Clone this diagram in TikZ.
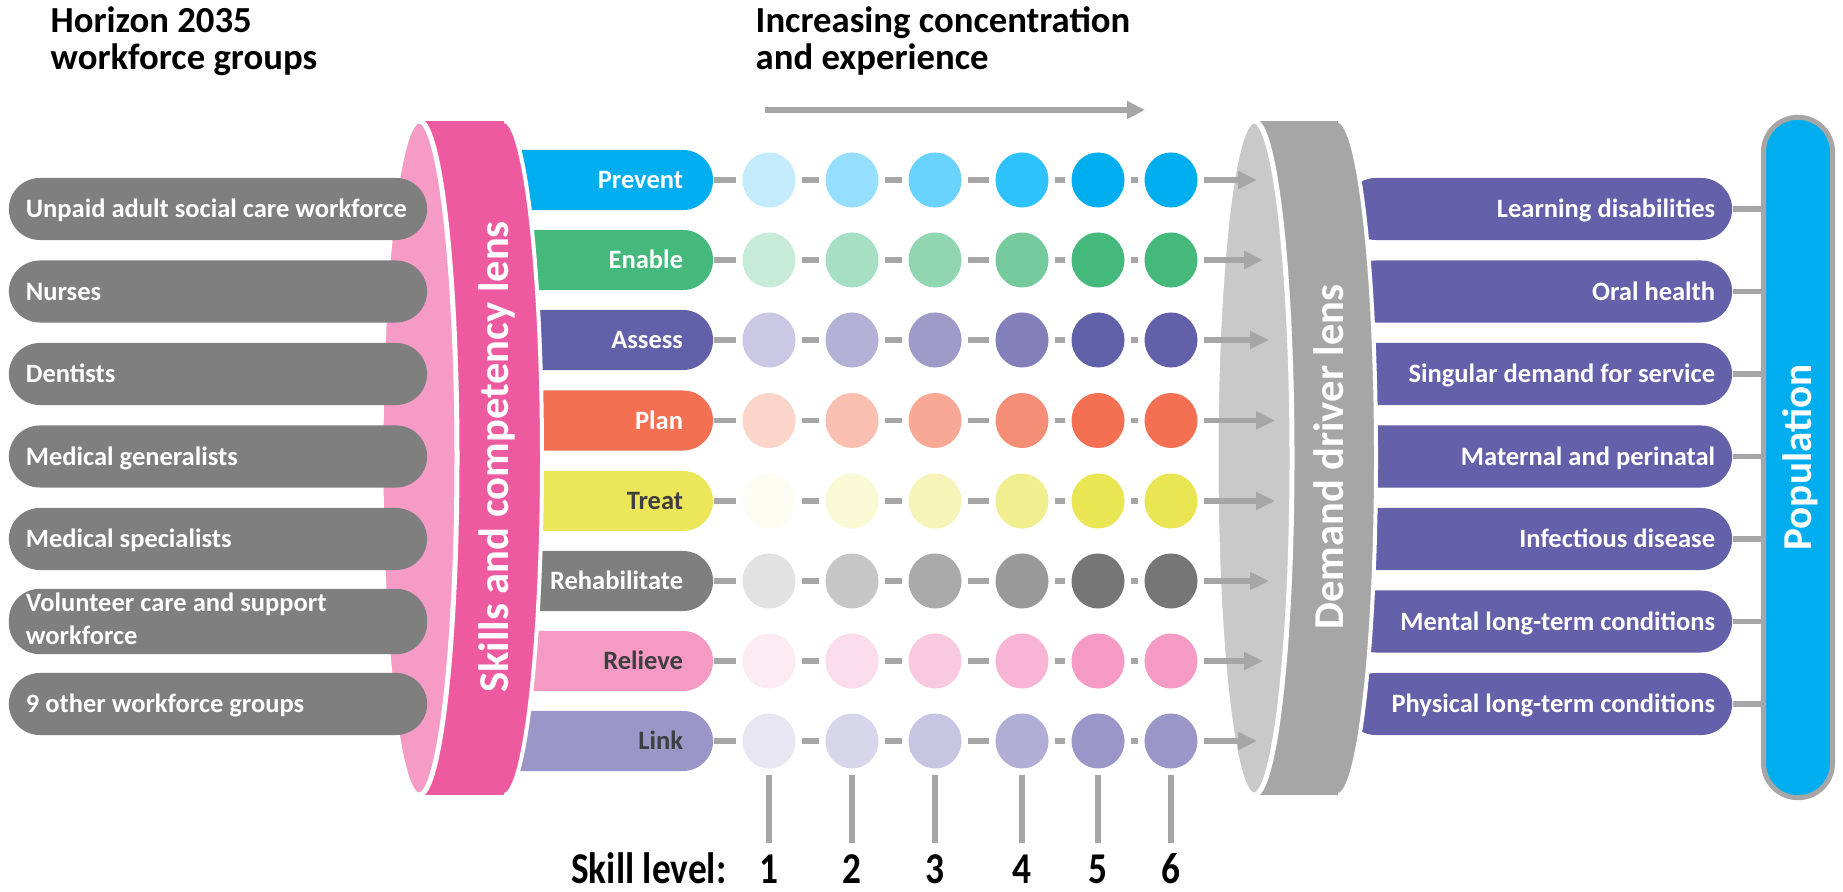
\documentclass[tikz,border=0pt]{standalone}
\usepackage{fontspec}
\usepackage{graphicx}
\setmainfont{Carlito}
\usetikzlibrary{arrows.meta,shapes.geometric}

% palette
\definecolor{connGray}{HTML}{A6A6A6}
\definecolor{pillGray}{HTML}{7F7F7F}
\definecolor{lensPinkLight}{HTML}{F59BC6}
\definecolor{lensPink}{HTML}{EE5A9F}
\definecolor{lensGrayLight}{HTML}{C9C9C9}
\definecolor{lensGray}{HTML}{A6A6A6}
\definecolor{demandPurple}{HTML}{6460AA}
\definecolor{popBlue}{HTML}{00AEEF}
\definecolor{darkText}{HTML}{3F3F3F}

% skill rows
\definecolor{row1}{HTML}{00AEEF}
\definecolor{row2}{HTML}{45B97C}
\definecolor{row3}{HTML}{6360AA}
\definecolor{row4}{HTML}{F37053}
\definecolor{row5}{HTML}{EBE65A}
\definecolor{row6}{HTML}{7F7F7F}
\definecolor{row7}{HTML}{F49AC4}
\definecolor{row8}{HTML}{9A96C7}

% skill level dots, light to dark
\definecolor{r1c1}{HTML}{C4EBFC}\definecolor{r1c2}{HTML}{97DFFE}\definecolor{r1c3}{HTML}{69D3FE}
\definecolor{r1c4}{HTML}{2EC2FD}\definecolor{r1c5}{HTML}{00AEEF}\definecolor{r1c6}{HTML}{00AEEF}
\definecolor{r2c1}{HTML}{C8EAD8}\definecolor{r2c2}{HTML}{A6DFC3}\definecolor{r2c3}{HTML}{91D5B1}
\definecolor{r2c4}{HTML}{74CA9D}\definecolor{r2c5}{HTML}{45B97C}\definecolor{r2c6}{HTML}{45B97C}
\definecolor{r3c1}{HTML}{CAC8E4}\definecolor{r3c2}{HTML}{B4B1D6}\definecolor{r3c3}{HTML}{9F9BC9}
\definecolor{r3c4}{HTML}{837FBA}\definecolor{r3c5}{HTML}{6360AA}\definecolor{r3c6}{HTML}{6360AA}
\definecolor{r4c1}{HTML}{FBD4CA}\definecolor{r4c2}{HTML}{F9C0B2}\definecolor{r4c3}{HTML}{F7A995}
\definecolor{r4c4}{HTML}{F58E77}\definecolor{r4c5}{HTML}{F37053}\definecolor{r4c6}{HTML}{F37053}
\definecolor{r5c1}{HTML}{FDFDF4}\definecolor{r5c2}{HTML}{FAF9D6}\definecolor{r5c3}{HTML}{F6F4B8}
\definecolor{r5c4}{HTML}{F1EE90}\definecolor{r5c5}{HTML}{EAE653}\definecolor{r5c6}{HTML}{EAE653}
\definecolor{r6c1}{HTML}{E2E2E2}\definecolor{r6c2}{HTML}{C6C6C6}\definecolor{r6c3}{HTML}{AAAAAA}
\definecolor{r6c4}{HTML}{999999}\definecolor{r6c5}{HTML}{767676}\definecolor{r6c6}{HTML}{767676}
\definecolor{r7c1}{HTML}{FDEBF3}\definecolor{r7c2}{HTML}{FBDCEA}\definecolor{r7c3}{HTML}{F9C9E0}
\definecolor{r7c4}{HTML}{F7B4D4}\definecolor{r7c5}{HTML}{F49AC4}\definecolor{r7c6}{HTML}{F49AC4}
\definecolor{r8c1}{HTML}{E7E6F2}\definecolor{r8c2}{HTML}{D8D6EB}\definecolor{r8c3}{HTML}{C7C5E1}
\definecolor{r8c4}{HTML}{B1AED6}\definecolor{r8c5}{HTML}{9A96C7}\definecolor{r8c6}{HTML}{9A96C7}

\newcommand\pillfont{\fontsize{7.54pt}{9.3pt}\selectfont\bfseries}
\newcommand\lensfont{\fontsize{12.1pt}{14pt}\selectfont\bfseries}
\newcommand\popfont{\fontsize{11.7pt}{14pt}\selectfont\bfseries}
\newcommand\headfont{\fontsize{10.44pt}{10.5pt}\selectfont\bfseries}
\newcommand\levelfont{\fontsize{12.5pt}{14pt}\selectfont\bfseries}
\newcommand\lvl[1]{\scalebox{0.85}[1]{#1}}

\tikzset{
  conn/.style={draw=connGray, line width=0.055cm},
  gap/.style={shorten <=0.06cm, shorten >=0.06cm},
  grouppill/.style={rectangle, fill=pillGray, text=white, rounded corners=0.31cm,
    minimum width=4.18cm, minimum height=0.62cm, inner xsep=0.17cm, inner ysep=0pt,
    font=\pillfont, text height=4.86pt, text depth=0pt},
  skillpill/.style={rectangle, rounded corners=0.3cm, minimum width=2.33cm,
    minimum height=0.6cm, inner xsep=0.3cm, inner ysep=0pt,
    font=\pillfont, text height=4.86pt, text depth=0pt},
  demandpill/.style={rectangle, fill=demandPurple, text=white, rounded corners=0.31cm,
    minimum width=3.87cm, minimum height=0.62cm, inner xsep=0.17cm, inner ysep=0pt,
    font=\pillfont, text height=4.86pt, text depth=0pt},
  dot/.style={ellipse, minimum width=0.53cm, minimum height=0.55cm, inner sep=0pt},
  lenstext/.style={rotate=90, text=white, font=\lensfont, text height=7.8pt, text depth=0pt},
  tip/.style={-{Triangle[length=0.19cm, width=0.17cm]}}
}

\begin{document}
\begin{tikzpicture}[x=0.01cm, y=-0.01cm]
\useasboundingbox (0,0) rectangle (1843,892);
\fill[white] (0,0) rectangle (1843,892);

% headings
\node[anchor=base west, font=\headfont, inner sep=0pt] (hgroups) at (50,33)
  {\begin{tabular}[t]{@{}l@{}}Horizon 2035\\workforce groups\end{tabular}};
\node[anchor=base west, font=\headfont, inner sep=0pt] (hconc) at (755,33)
  {\begin{tabular}[t]{@{}l@{}}Increasing concentration\\and experience\end{tabular}};
\coordinate (arrA) at (765,110);
\coordinate (arrB) at (1145,110);
\draw[conn, line width=0.06cm, -{Triangle[length=0.18cm, width=0.17cm]}] (arrA) -- (arrB);

% skill domains (left ends tucked under the lens)
\foreach \i/\y/\lab/\tc in {1/180/Prevent/white, 2/260/Enable/white, 3/340/Assess/white,
    4/420.5/Plan/white, 5/501/Treat/darkText, 6/581/Rehabilitate/white,
    7/661/Relieve/darkText, 8/741/Link/darkText}
  \node[skillpill, fill=row\i, text=\tc] (s\i) at (596.5,\y) {\makebox[1.73cm][r]{\lab}};

% skills and competency lens
\fill[lensPink, draw=white, line width=0.04cm] (504,458) ellipse [x radius=38, y radius=337];
\fill[lensPink] (419,121) rectangle (504,795);
\fill[lensPinkLight, draw=white, line width=0.05cm] (419,458) ellipse [x radius=38, y radius=337];
\node[lenstext] (lensA) at (495,457) {Skills and competency lens};

% workforce groups
\node[grouppill] (g1) at (218,209) {\makebox[3.84cm][l]{Unpaid adult social care workforce}};
\node[grouppill] (g2) at (218,291.5) {\makebox[3.84cm][l]{Nurses}};
\node[grouppill] (g3) at (218,374) {\makebox[3.84cm][l]{Dentists}};
\node[grouppill] (g4) at (218,456.5) {\makebox[3.84cm][l]{Medical generalists}};
\node[grouppill] (g5) at (218,539) {\makebox[3.84cm][l]{Medical specialists}};
\node[grouppill, text height=, text depth=] (g6) at (218,621.5)
  {\makebox[3.84cm][l]{\begin{tabular}{@{}l@{}}Volunteer care and support\\workforce\end{tabular}}};
\node[grouppill] (g7) at (218,704) {\makebox[3.84cm][l]{9 other workforce groups}};

% demand drivers (left ends tucked under the lens)
\foreach \i/\y/\lab in {1/209/Learning disabilities, 2/291.5/Oral health,
    3/374/Singular demand for service, 4/456.5/Maternal and perinatal,
    5/539/Infectious disease, 6/621.5/Mental long-term conditions,
    7/704/Physical long-term conditions}
  \node[demandpill] (d\i) at (1538.5,\y) {\makebox[3.53cm][r]{\lab}};

% demand driver lens
\fill[lensGray, draw=white, line width=0.04cm] (1338,458) ellipse [x radius=38, y radius=337];
\fill[lensGray] (1254,121) rectangle (1338,795);
\fill[lensGrayLight, draw=white, line width=0.05cm] (1254,458) ellipse [x radius=38, y radius=337];
\node[lenstext] (lensB) at (1330,457) {Demand driver lens};

% skill level grid
\foreach \i/\y in {1/180,2/260,3/340,4/420.5,5/501,6/581,7/661,8/741}
  \foreach \j/\x in {1/769,2/852,3/935,4/1022,5/1098,6/1171}
    \node[dot, fill=r\i c\j] (c\i\j) at (\x,\y) {};

\foreach \i in {1,...,8}{
  \draw[conn, shorten >=0.06cm] (s\i.east) -- (c\i1);
  \foreach \j [evaluate=\j as \k using int(\j+1)] in {1,...,5}
    \draw[conn, gap] (c\i\j) -- (c\i\k);
}
\foreach \j in {1,...,6}
  \foreach \i [evaluate=\i as \k using int(\i+1)] in {1,...,7}
    \draw[conn, gap] (c\i\j) -- (c\k\j);

% arrows into the demand driver lens
\foreach \i/\y/\tx in {1/180/1257, 2/260/1263, 3/340/1269, 4/420.5/1275,
    5/501/1275, 6/581/1269, 7/661/1263, 8/741/1257}{
  \coordinate (t\i) at (\tx,\y);
  \draw[conn, tip, shorten <=0.06cm] (c\i6) -- (t\i);
}

% level scale
\foreach \j/\x in {1/769,2/852,3/935,4/1022,5/1098,6/1171}{
  \coordinate (b\j) at (\x,843);
  \draw[conn, shorten <=0.06cm] (c8\j) -- (b\j);
  \node[anchor=base, font=\levelfont, inner sep=0pt] (n\j) at (\x,883) {\lvl{\j}};
}
\node[anchor=base east, font=\levelfont, inner sep=0pt] (skl) at (727,883) {\lvl{Skill level:}};

% population
\node[draw=connGray, line width=0.05cm, fill=popBlue, rounded corners=0.345cm,
  minimum width=0.69cm, minimum height=6.80cm, inner sep=0pt] (pop) at (1798,457.5) {};
\node[rotate=90, text=white, font=\popfont, text height=7.55pt, text depth=0pt] (popt)
  at (pop.center) {Population};
\foreach \i in {1,...,7}
  \draw[conn] (d\i.east) -- (d\i.east -| pop.west);

\end{tikzpicture}
\end{document}
